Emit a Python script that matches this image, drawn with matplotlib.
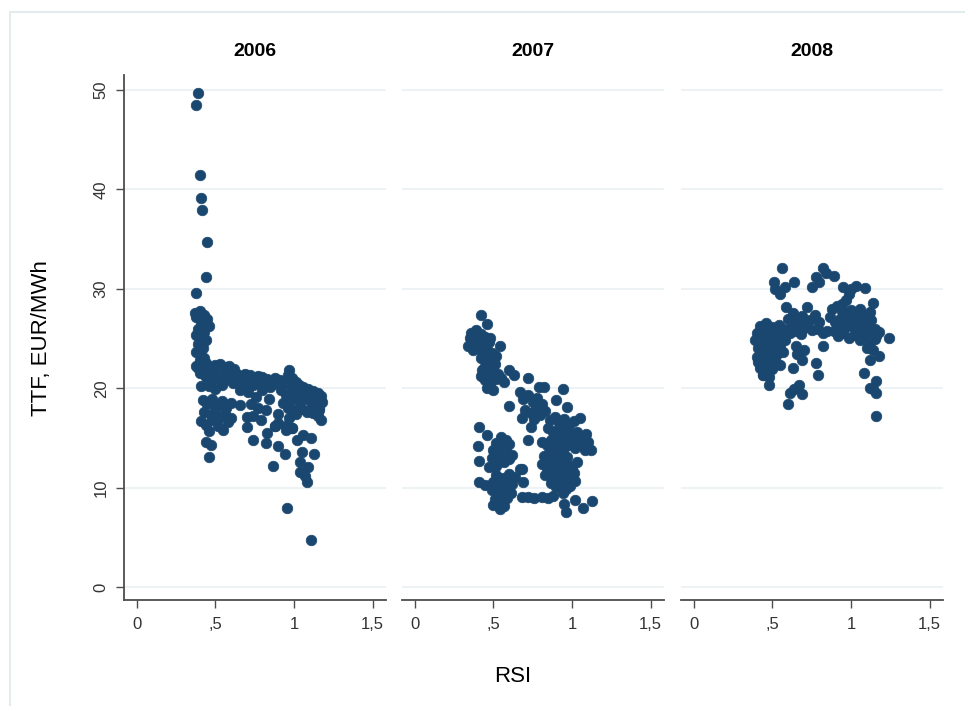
import matplotlib
matplotlib.use("Agg")
import matplotlib.pyplot as plt
from matplotlib.patches import Rectangle

plt.rcParams["font.family"] = ["Liberation Sans Narrow", "Liberation Sans", "DejaVu Sans"]

years = ["2006", "2007", "2008"]
x_ticks = [0, 0.5, 1, 1.5]
x_tick_labels = ["0", ",5", "1", "1,5"]
y_ticks = [0, 10, 20, 30, 40, 50]

# RSI / TTF price pairs
rsi_2006 = [0.39, 0.38, 0.40, 0.41, 0.415, 0.45, 0.44, 0.38,
            0.37, 0.40, 0.43, 0.38, 0.45, 0.41, 0.46, 0.39, 0.43, 0.38, 0.41, 0.44, 0.39, 0.42, 0.38, 0.41, 0.40, 0.44, 0.38, 0.42,
            0.40, 0.45, 0.48, 0.50, 0.53, 0.56, 0.59, 0.62, 0.44, 0.48, 0.52, 0.55, 0.58, 0.61, 0.41, 0.46, 0.50, 0.54,
            0.64, 0.67, 0.70, 0.72, 0.75, 0.78, 0.80, 0.83, 0.86, 0.88, 0.68, 0.74, 0.66, 0.71, 0.85,
            0.97, 0.96, 0.99, 1.01, 0.94, 1.03, 1.06, 1.09, 1.12, 1.15, 1.17, 0.92, 0.95, 0.98, 1.00, 1.03, 0.93, 0.96,
            1.10, 1.14, 1.16, 1.17, 1.15, 1.12, 1.05, 1.08, 1.01, 0.97, 0.95, 0.99, 0.90, 0.88, 1.08, 1.11, 0.90,
            0.42, 0.45, 0.48, 0.51, 0.54, 0.57, 0.60, 0.43, 0.47, 0.50, 0.53, 0.56, 0.41, 0.44, 0.48, 0.52, 0.58, 0.60, 0.46, 0.55,
            0.70, 0.70, 0.76, 0.82, 0.79, 0.88, 0.95, 0.99, 0.66, 0.73, 0.77, 0.84, 0.80, 0.74,
            0.44, 0.47, 0.46, 0.74, 0.87, 0.955, 1.11, 1.11, 1.13, 1.05, 1.04, 1.09, 1.04, 1.08, 1.07, 0.94, 0.90, 0.82, 0.83, 1.02, 1.06,
            0.39, 0.42, 0.40, 0.42, 0.40, 0.43, 0.39, 0.43,
            0.47, 0.51, 0.57, 0.60, 0.63, 0.69, 0.77, 0.82, 0.87, 0.91,
            0.98, 1.02, 1.05, 1.07, 1.13, 1.18, 1.16, 0.97, 1.00]
ttf_2006 = [49.7, 48.5, 41.4, 39.1, 37.9, 34.7, 31.2, 29.6,
            27.6, 27.8, 27.4, 27.2, 27.0, 26.6, 26.3, 26.0, 25.7, 25.4, 25.1, 24.8, 24.4, 24.0, 23.6, 23.2, 22.8, 22.5, 22.2, 21.9,
            21.5, 22.0, 21.7, 22.3, 22.4, 22.1, 22.2, 21.9, 21.1, 20.8, 21.0, 20.6, 20.9, 20.5, 20.2, 20.2, 19.9, 20.3,
            21.4, 21.0, 20.8, 21.3, 21.0, 20.6, 21.1, 20.9, 20.7, 21.0, 20.3, 20.3, 19.8, 19.6, 20.1,
            21.8, 21.3, 21.0, 20.6, 20.5, 20.3, 20.1, 19.9, 19.7, 19.5, 19.2, 19.8, 19.3, 19.6, 19.0, 18.7, 18.5, 18.0,
            18.8, 18.3, 17.8, 16.8, 17.2, 17.5, 17.9, 17.6, 17.4, 17.0, 16.2, 16.0, 16.5, 16.2, 19.1, 18.0, 17.4,
            18.8, 18.4, 18.9, 18.2, 18.7, 18.0, 18.5, 17.6, 17.3, 17.8, 17.1, 17.4, 16.7, 16.3, 16.8, 16.2, 16.6, 17.0, 15.7, 15.8,
            16.1, 17.1, 19.1, 17.8, 16.8, 16.2, 15.8, 16.0, 18.3, 18.4, 18.0, 18.9, 19.8, 17.2,
            14.6, 14.3, 13.1, 14.8, 12.2, 8.0, 4.7, 15.0, 13.4, 13.6, 12.6, 12.1, 11.6, 10.6, 11.2, 13.4, 14.2, 14.5, 15.5, 14.8, 15.3,
            27.3, 26.9, 25.9, 24.6, 23.5, 23.0, 22.0, 21.4,
            21.9, 21.4, 21.6, 21.3, 20.8, 21.4, 21.2, 20.4, 20.4, 20.8,
            20.3, 19.6, 19.4, 18.9, 19.0, 18.6, 18.0, 18.3, 17.8]

rsi_2007 = [0.42, 0.46,
            0.36, 0.39, 0.42, 0.45, 0.48, 0.35, 0.38, 0.41, 0.44, 0.47, 0.34, 0.37, 0.40, 0.43, 0.46, 0.49,
            0.54, 0.52,
            0.42, 0.45, 0.48, 0.51, 0.44, 0.47, 0.50, 0.53, 0.42, 0.45, 0.48, 0.52, 0.55, 0.46, 0.50, 0.57,
            0.60, 0.63, 0.72, 0.67, 0.79, 0.82, 0.94, 0.90, 0.97, 0.60,
            0.69, 0.72, 0.75, 0.78, 0.81, 0.70, 0.74, 0.77, 0.80, 0.83, 0.68, 0.76,
            0.74, 0.72, 0.81,
            0.86, 0.89, 0.92, 0.95, 0.98, 1.01, 1.05, 0.85, 0.88, 0.91, 0.94, 0.97, 1.00, 1.03, 1.06, 1.09,
            0.87, 0.90, 0.93, 0.96, 0.99, 1.02, 1.05, 1.08, 1.12, 0.84, 1.10,
            0.82, 0.85, 0.88, 0.91, 0.94, 0.97, 0.81, 0.84, 0.87, 0.90, 0.93, 0.96, 0.99, 0.83, 0.86, 0.89, 0.92,
            0.95, 0.98, 1.01, 0.87, 0.90, 0.93, 0.96, 0.99, 1.02, 0.94, 1.03,
            0.41, 0.46, 0.40, 0.41, 0.41, 0.45,
            0.55, 0.58, 0.52, 0.56, 0.60, 0.50, 0.54, 0.58, 0.62, 0.49, 0.53, 0.57, 0.47,
            0.52, 0.56, 0.60, 0.64, 0.50, 0.54, 0.58, 0.62, 0.49, 0.53, 0.57, 0.61, 0.51, 0.55, 0.59, 0.50, 0.54, 0.57,
            0.68, 0.69, 0.67,
            0.68, 0.72, 0.76, 0.81, 0.85, 0.88, 0.96, 0.95, 1.02, 1.07, 1.13,
            0.40, 0.37, 0.43, 0.36, 0.46, 0.49, 0.43, 0.47,
            0.92, 0.95, 0.98, 1.01, 0.89, 0.94, 0.92, 0.95, 0.88, 0.97, 0.91, 0.94, 1.00,
            0.56, 0.53, 0.59, 0.52, 0.56, 0.60]
ttf_2007 = [27.4, 26.5,
            25.6, 25.9, 25.5, 25.2, 25.0, 25.0, 24.6, 24.9, 24.4, 24.6, 24.2, 23.8, 24.0, 23.6, 23.9, 23.5,
            24.2, 23.2,
            23.0, 22.7, 22.9, 22.4, 22.0, 21.6, 21.9, 21.4, 21.2, 20.8, 20.5, 20.9, 21.0, 20.0, 19.8, 20.6,
            21.8, 21.3, 21.0, 19.6, 20.1, 20.1, 19.9, 18.8, 18.1, 18.2,
            18.9, 19.3, 18.6, 19.0, 18.4, 17.8, 17.5, 18.0, 17.3, 17.7, 17.0, 16.9,
            16.1, 14.8, 14.6,
            16.8, 17.1, 16.6, 16.9, 16.3, 16.7, 17.0, 16.0, 15.6, 15.9, 15.4, 15.7, 15.2, 15.6, 15.0, 15.4,
            14.8, 14.4, 14.7, 14.2, 14.5, 14.0, 14.3, 13.8, 13.8, 14.3, 14.6,
            13.2, 13.4, 13.0, 13.3, 12.9, 13.1, 12.4, 12.0, 12.5, 12.1, 12.4, 11.9, 12.2, 11.3, 11.6, 11.1, 11.4,
            10.9, 11.2, 11.5, 10.5, 10.1, 10.4, 9.9, 10.2, 10.7, 9.5, 12.6,
            16.1, 15.3, 14.2, 12.7, 10.6, 10.3,
            15.1, 14.8, 14.5, 14.2, 14.4, 13.8, 13.5, 13.7, 13.3, 13.0, 12.8, 12.6, 12.1,
            11.3, 11.0, 11.4, 11.1, 10.6, 10.3, 10.7, 10.4, 9.8, 9.6, 9.9, 9.5, 8.9, 8.6, 9.0, 8.3, 7.9, 8.2,
            11.9, 10.6, 11.9,
            9.1, 9.1, 9.0, 9.1, 9.0, 9.2, 7.6, 8.4, 8.75, 8.0, 8.7,
            25.3, 24.9, 25.0, 24.4, 23.2, 22.3, 21.8, 21.2,
            15.2, 16.0, 15.0, 14.8, 13.7, 13.8, 12.7, 12.5, 11.8, 11.5, 10.7, 11.0, 12.0,
            9.3, 10.0, 10.2, 12.2, 13.1, 12.9]

rsi_2008 = [0.56, 0.51, 0.52, 0.55, 0.58, 0.64, 0.75, 0.78, 0.82, 0.80, 0.84, 0.89, 0.95, 0.99, 1.00, 0.97, 1.03, 1.09, 1.14, 0.59,
            0.42, 0.46, 0.50, 0.54, 0.57, 0.40, 0.44, 0.48, 0.52, 0.56, 0.39, 0.43, 0.47, 0.51, 0.55, 0.41, 0.45, 0.49,
            0.53, 0.57, 0.40, 0.44, 0.48, 0.52, 0.42, 0.46, 0.50, 0.44, 0.48, 0.55, 0.58,
            0.60, 0.63, 0.66, 0.69, 0.72, 0.74, 0.77, 0.62, 0.65, 0.70, 0.75, 0.79, 0.82, 0.85, 0.68,
            0.88, 0.91, 0.94, 0.97, 1.00, 1.03, 1.06, 1.09, 1.12, 0.87, 0.90, 0.93, 0.96, 0.99, 1.02, 1.05, 1.08, 1.11,
            1.15, 1.18, 0.89, 0.92, 0.95, 0.99, 1.02, 1.06, 1.09, 1.12, 1.15, 1.10, 1.14, 1.24,
            1.18, 1.12, 1.08, 1.16, 1.12, 1.14, 1.16, 1.16, 0.65, 0.69, 0.78, 0.79, 0.82, 0.63, 0.48, 0.61, 0.60,
            0.67, 0.69, 0.64, 0.44, 0.70, 0.66,
            0.42, 0.46, 0.50, 0.45, 0.49, 0.43, 0.47, 0.51, 0.46, 0.50, 0.41,
            0.97, 1.01, 1.04, 1.07, 1.13, 0.95, 1.10, 1.16, 1.06, 0.94, 0.92,
            0.64, 0.71, 0.80, 0.61]
ttf_2008 = [32.1, 30.7, 30.0, 29.5, 30.2, 30.7, 30.2, 31.2, 32.1, 30.7, 31.6, 31.3, 30.2, 29.5, 30.0, 28.9, 30.3, 30.1, 28.6, 28.2,
            26.3, 26.6, 26.2, 26.4, 26.0, 25.6, 25.8, 25.4, 25.5, 25.1, 24.8, 24.9, 24.6, 24.7, 24.3, 24.0, 23.7, 23.9,
            23.4, 23.6, 23.1, 22.8, 22.6, 22.9, 22.0, 21.7, 21.9, 21.3, 21.1, 22.3, 24.8,
            27.0, 27.6, 26.8, 27.3, 28.2, 26.9, 27.4, 26.2, 25.8, 26.1, 25.9, 26.0, 25.6, 25.8, 25.5,
            28.0, 28.3, 27.8, 27.5, 27.9, 27.6, 28.0, 27.4, 27.7, 27.2, 26.7, 27.0, 26.5, 26.8, 26.2, 26.6, 26.1, 26.4,
            26.0, 25.7, 25.8, 25.3, 25.6, 25.0, 25.4, 24.8, 25.2, 24.6, 24.9, 24.0, 23.8, 25.0,
            23.2, 22.8, 21.5, 20.7, 20.0, 19.9, 19.5, 17.2, 24.2, 22.8, 22.5, 21.3, 24.2, 22.0, 20.3, 19.5, 18.4,
            20.3, 19.4, 19.9, 21.3, 23.8, 23.4,
            25.2, 25.0, 25.0, 24.3, 24.3, 23.3, 23.2, 23.3, 22.3, 22.4, 22.6,
            26.2, 26.6, 27.2, 26.9, 26.9, 27.2, 25.6, 25.3, 25.6, 28.5, 26.2,
            26.5, 26.6, 26.7, 25.6]

panels = [(rsi_2006, ttf_2006), (rsi_2007, ttf_2007), (rsi_2008, ttf_2008)]

W, H = 965, 706
fig = plt.figure(figsize=(W / 100, H / 100), dpi=100)
fig.patch.set_facecolor("white")

# light outer frame like the Stata graph region
fig.patches.append(Rectangle((10 / W, -0.01), 1.0, 1 - 12 / H + 0.01, transform=fig.transFigure,
                             fill=False, edgecolor="#e4ebed", linewidth=1.5))

marker_color = "#1a476f"
spine_color = "#4d4d4d"
lefts = [124, 402, 681]
ax_w = 262
top_px, bottom_px = 75, 600

for i, (year, (xs, ys)) in enumerate(zip(years, panels)):
    ax = fig.add_axes([lefts[i] / W, 1 - bottom_px / H, ax_w / W, (bottom_px - top_px) / H])
    ax.scatter(xs, ys, s=58, color=marker_color, edgecolors=marker_color, linewidths=0.5, zorder=3)
    ax.set_xlim(-0.08, 1.585)
    ax.set_ylim(-1.3, 51.5)
    ax.set_yticks(y_ticks)
    ax.set_xticks(x_ticks)
    ax.set_xticklabels(x_tick_labels)
    ax.grid(axis="y", color="#eaf1f2", linewidth=1.2, zorder=0)
    for side in ["top", "right"]:
        ax.spines[side].set_visible(False)
    ax.spines["bottom"].set_color(spine_color)
    ax.spines["bottom"].set_linewidth(1.3)
    ax.tick_params(axis="x", direction="out", length=6, width=1, color=spine_color,
                   labelsize=12, pad=6, labelcolor="#333333")
    if i == 0:
        ax.spines["left"].set_color(spine_color)
        ax.spines["left"].set_linewidth(1.3)
        ax.tick_params(axis="y", direction="out", length=6, width=1, color=spine_color,
                       labelsize=12, pad=5, labelcolor="#333333")
        for lbl in ax.get_yticklabels():
            lbl.set_rotation(90)
            lbl.set_va("center")
    else:
        ax.spines["left"].set_visible(False)
        ax.tick_params(axis="y", left=False, labelleft=False)
    ax.set_title(year, fontsize=14, fontweight="bold", pad=14)

fig.text(42 / W, 1 - 338 / H, "TTF, EUR/MWh", rotation=90, ha="center", va="center", fontsize=16)
fig.text(513 / W, 1 - 677 / H, "RSI", ha="center", va="center", fontsize=16)

fig.savefig("out.png", dpi=100)
